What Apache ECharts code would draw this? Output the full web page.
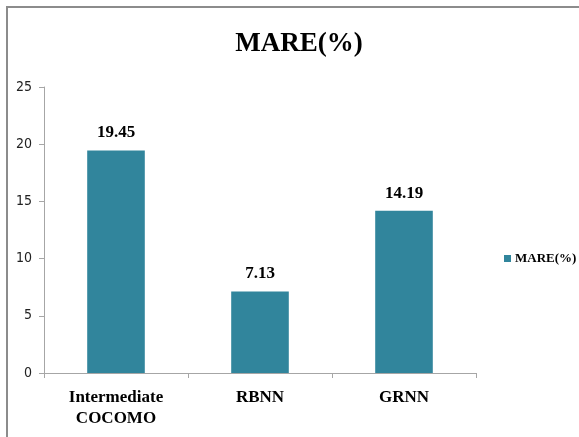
<!DOCTYPE html>
<html><head><meta charset="utf-8">
<script src="https://cdn.jsdelivr.net/npm/echarts@6/dist/echarts.min.js"></script>
<style>
html,body{margin:0;padding:0;background:#fff;overflow:hidden}
#frame{position:absolute;left:6px;top:6px;width:600px;height:460px;border-top:2px solid #8c8c8c;border-left:2px solid #8c8c8c;box-sizing:border-box}
#c{position:absolute;left:0;top:0;width:579px;height:437px}
</style></head>
<body>
<div id="frame"></div>
<div id="c"></div>
<script>
const categories = ['Intermediate\nCOCOMO', 'RBNN', 'GRNN'];
const mareValues = [19.45, 7.13, 14.19];
const seriesName = 'MARE(%)';
const yTicks = {min: 0, max: 25, interval: 5};

const chart = echarts.init(document.getElementById('c'), null, {renderer: 'canvas'});
chart.setOption({
  backgroundColor: 'transparent',
  animation: false,
  title: {
    text: 'MARE(%)',
    left: 294, textAlign: 'center', top: 26,
    textStyle: {fontFamily: 'Liberation Serif', fontWeight: 'bold', fontSize: 27, color: '#000'}
  },
  legend: {
    data: [seriesName],
    left: 499, top: 247,
    itemWidth: 7, itemHeight: 7, itemGap: 4,
    icon: 'rect',
    textStyle: {fontFamily: 'Liberation Serif', fontWeight: 'bold', fontSize: 13, color: '#000', padding: [0,0,0,-1]}
  },
  grid: {left: 44, right: 103, top: 87, bottom: 64, containLabel: false},
  xAxis: {
    type: 'category',
    data: categories,
    axisLine: {lineStyle: {color: '#a6a6a6', width: 1}},
    axisTick: {show: true, alignWithLabel: false, length: 5, lineStyle: {color: '#a6a6a6'}},
    axisLabel: {margin: 14, fontFamily: 'Liberation Serif', fontWeight: 'bold', fontSize: 17, color: '#000', lineHeight: 21, interval: 0}
  },
  yAxis: {
    type: 'value',
    min: yTicks.min, max: yTicks.max, interval: yTicks.interval,
    axisLine: {show: true, lineStyle: {color: '#a6a6a6', width: 1}},
    axisTick: {show: true, length: 5, lineStyle: {color: '#a6a6a6'}},
    splitLine: {show: false},
    axisLabel: {margin: 12, fontFamily: 'DejaVu Sans Condensed', fontSize: 14, color: '#222'}
  },
  series: [{
    name: seriesName,
    type: 'bar',
    data: mareValues,
    barWidth: '40%',
    itemStyle: {color: '#31859C'},
    label: {show: true, position: 'top', distance: 9, fontFamily: 'Liberation Serif', fontWeight: 'bold', fontSize: 17, color: '#000',
      formatter: p => p.value.toFixed(2)}
  }]
});
</script>
</body></html>
